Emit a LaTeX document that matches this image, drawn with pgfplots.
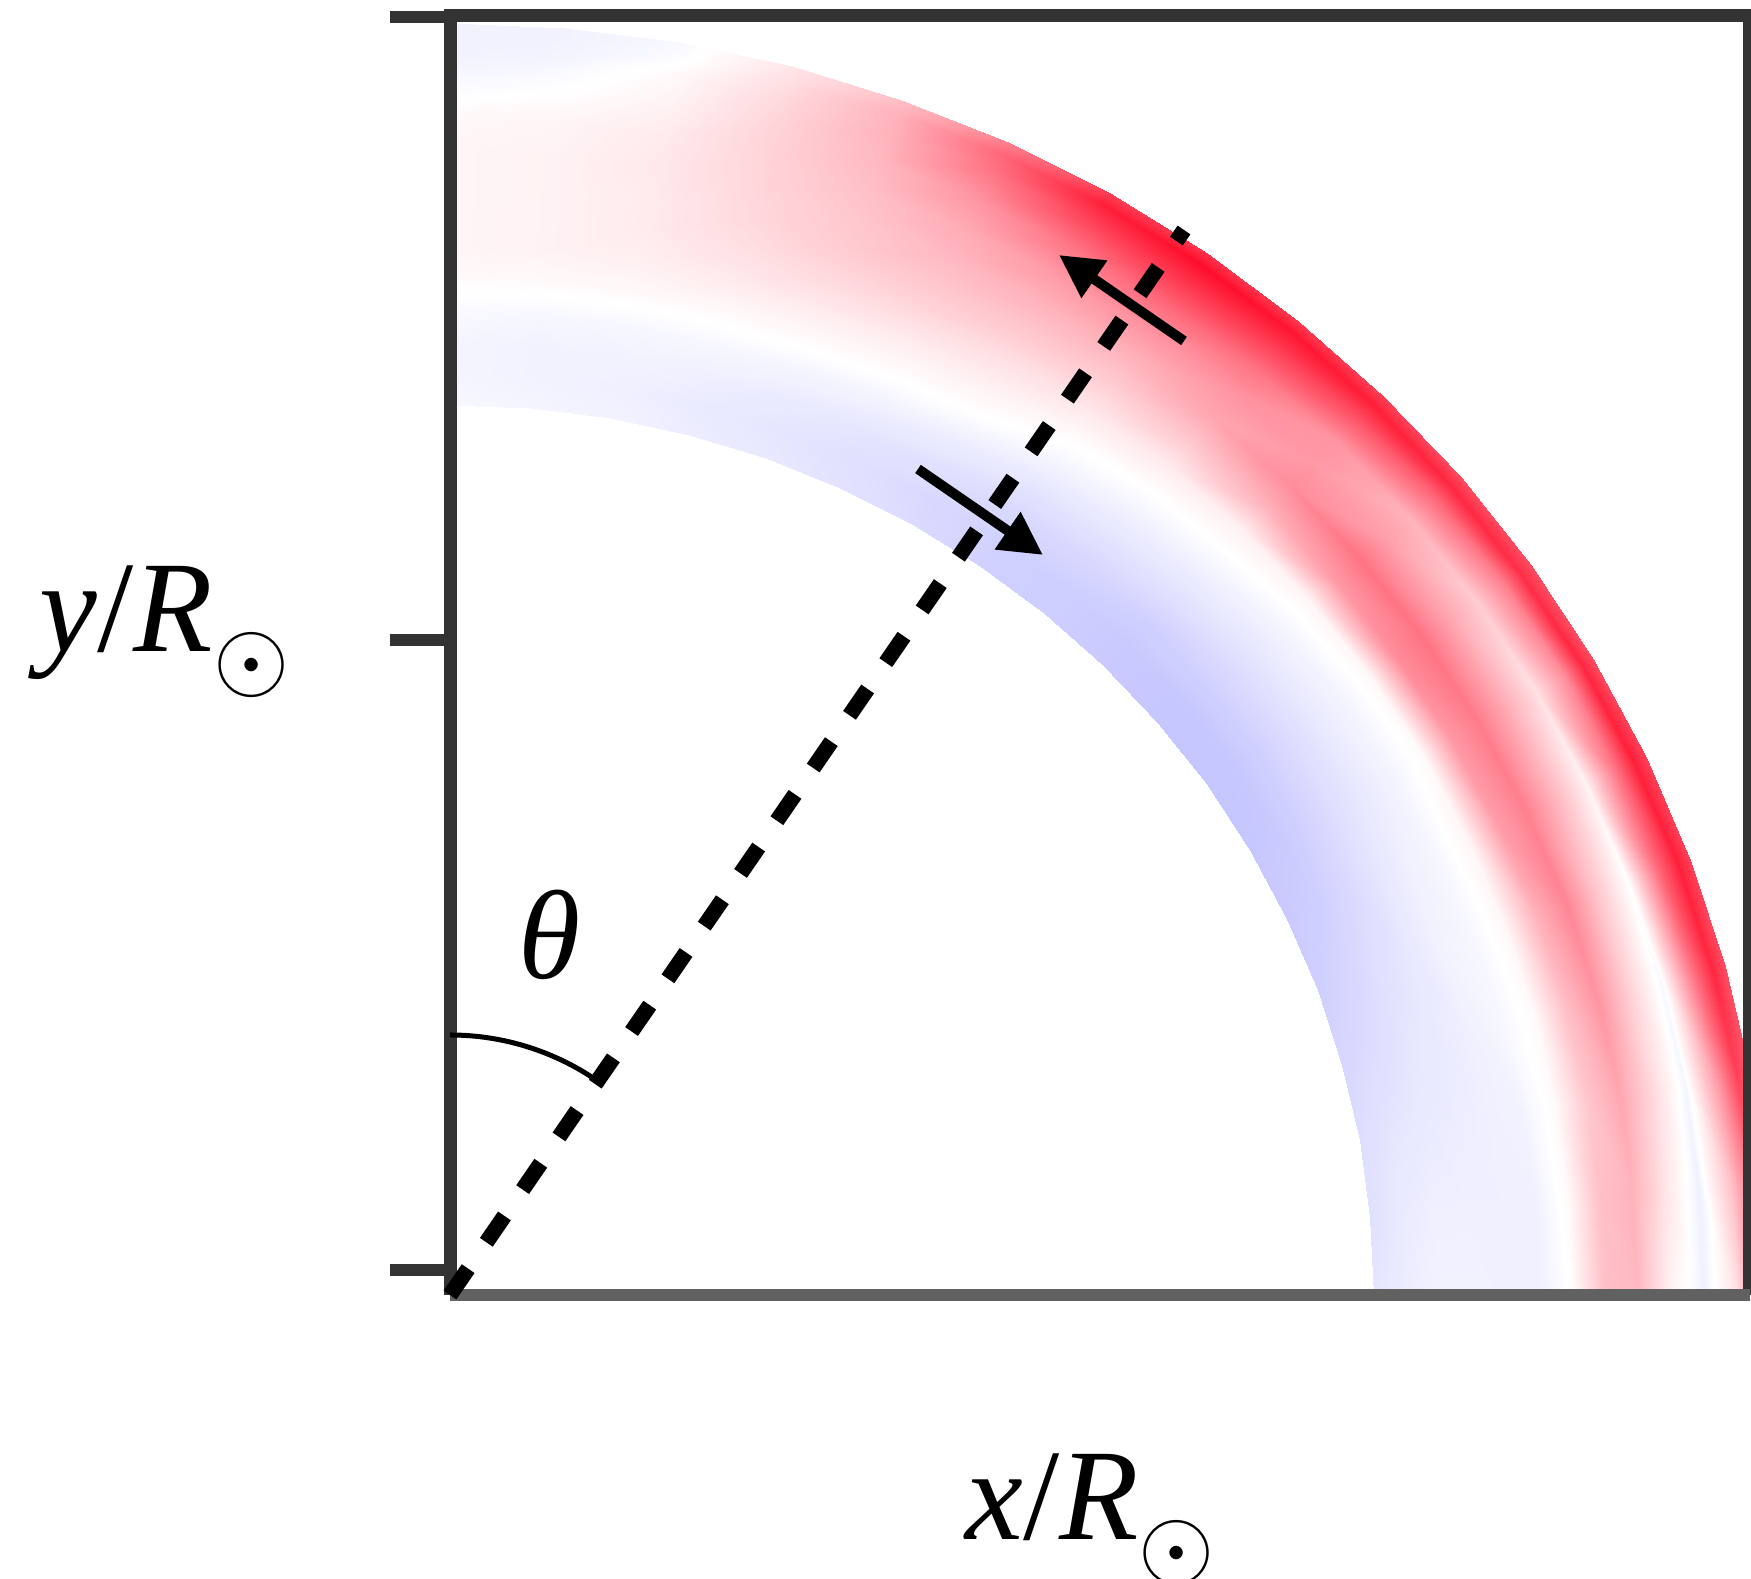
\documentclass[border=0pt]{standalone}
\usepackage{pgfplots}
\pgfplotsset{compat=1.18}
\usepackage{fontspec}
\setmainfont{Liberation Serif}
\usetikzlibrary{arrows.meta}
\newcommand{\sunsub}{\raisebox{-3.8mm}{\scalebox{1.12}{$\scriptstyle\odot$}}}
\begin{document}
\begin{tikzpicture}
\useasboundingbox (0,0) rectangle (175.1mm,157.9mm);
\begin{axis}[
  at={(45mm,28.4mm)}, anchor=south west,
  scale only axis, width=130mm, height=127.9mm,
  view={0}{90},
  xmin=0, xmax=0.985, ymin=0, ymax=1.0055, zmin=-1, zmax=1,
  xtick=\empty, ztick=\empty,
  ytick={0.0197,0.515,1.005}, yticklabels={},
  ytick pos=left, tick align=outside, major tick length=6mm,
  tick style={line width=1.2mm, black!80},
  axis line style={draw=none},
  colormap={bwr}{rgb=(0,0,1) rgb=(1,1,1) rgb=(1,0,0.12)},
  point meta min=-1, point meta max=1,
  clip mode=individual,
]
\addplot3[surf, shader=interp, mesh/rows=19, mesh/cols=14, point meta=explicit]
 table[x expr={\thisrow{r}*sin(\thisrow{t})}, y expr={\thisrow{r}*cos(\thisrow{t})}, z expr=0, meta=v, row sep=\\] {
t r v\\
0 .7 -.03\\ 0 .725 -.04\\ 0 .75 -.04\\ 0 .775 -.02\\ 0 .8 .02\\ 0 .825 .04\\ 0 .85 .04\\ 0 .875 .04\\ 0 .9 .04\\ 0 .925 .03\\ 0 .95 -.02\\ 0 .975 -.05\\ 0 .99 -.05\\ 0 1 -.05\\
5 .7 -.04\\ 5 .725 -.05\\ 5 .75 -.05\\ 5 .775 -.03\\ 5 .8 .02\\ 5 .825 .05\\ 5 .85 .05\\ 5 .875 .05\\ 5 .9 .05\\ 5 .925 .04\\ 5 .95 0\\ 5 .975 -.04\\ 5 .99 -.05\\ 5 1 -.05\\
10 .7 -.05\\ 10 .725 -.06\\ 10 .75 -.05\\ 10 .775 -.03\\ 10 .8 .02\\ 10 .825 .06\\ 10 .85 .08\\ 10 .875 .08\\ 10 .9 .09\\ 10 .925 .08\\ 10 .95 .05\\ 10 .975 .02\\ 10 .99 -.02\\ 10 1 -.03\\
15 .7 -.07\\ 15 .725 -.08\\ 15 .75 -.06\\ 15 .775 -.03\\ 15 .8 .02\\ 15 .825 .08\\ 15 .85 .12\\ 15 .875 .15\\ 15 .9 .16\\ 15 .925 .17\\ 15 .95 .17\\ 15 .975 .15\\ 15 .99 .12\\ 15 1 .10\\
20 .7 -.09\\ 20 .725 -.10\\ 20 .75 -.08\\ 20 .775 -.04\\ 20 .8 .02\\ 20 .825 .08\\ 20 .85 .15\\ 20 .875 .20\\ 20 .9 .22\\ 20 .925 .25\\ 20 .95 .28\\ 20 .975 .30\\ 20 .99 .30\\ 20 1 .25\\
25 .7 -.11\\ 25 .725 -.12\\ 25 .75 -.10\\ 25 .775 -.05\\ 25 .8 .01\\ 25 .825 .07\\ 25 .85 .15\\ 25 .875 .22\\ 25 .9 .28\\ 25 .925 .33\\ 25 .95 .42\\ 25 .975 .55\\ 25 .99 .60\\ 25 1 .50\\
30 .7 -.14\\ 30 .725 -.15\\ 30 .75 -.12\\ 30 .775 -.07\\ 30 .8 0\\ 30 .825 .06\\ 30 .85 .13\\ 30 .875 .22\\ 30 .9 .30\\ 30 .925 .40\\ 30 .95 .55\\ 30 .975 .75\\ 30 .99 .88\\ 30 1 .75\\
35 .7 -.18\\ 35 .725 -.18\\ 35 .75 -.15\\ 35 .775 -.10\\ 35 .8 -.04\\ 35 .825 .02\\ 35 .85 .10\\ 35 .875 .20\\ 35 .9 .30\\ 35 .925 .42\\ 35 .95 .60\\ 35 .975 .82\\ 35 .99 .95\\ 35 1 .80\\
40 .7 -.19\\ 40 .725 -.19\\ 40 .75 -.16\\ 40 .775 -.11\\ 40 .8 -.06\\ 40 .825 0\\ 40 .85 .08\\ 40 .875 .22\\ 40 .9 .35\\ 40 .925 .42\\ 40 .95 .55\\ 40 .975 .78\\ 40 .99 .92\\ 40 1 .78\\
45 .7 -.21\\ 45 .725 -.21\\ 45 .75 -.18\\ 45 .775 -.12\\ 45 .8 -.07\\ 45 .825 -.01\\ 45 .85 .06\\ 45 .875 .30\\ 45 .9 .45\\ 45 .925 .40\\ 45 .95 .42\\ 45 .975 .70\\ 45 .99 .88\\ 45 1 .75\\
50 .7 -.22\\ 50 .725 -.22\\ 50 .75 -.18\\ 50 .775 -.13\\ 50 .8 -.08\\ 50 .825 -.03\\ 50 .85 .04\\ 50 .875 .40\\ 50 .9 .55\\ 50 .925 .38\\ 50 .95 .30\\ 50 .975 .60\\ 50 .99 .85\\ 50 1 .70\\
55 .7 -.23\\ 55 .725 -.22\\ 55 .75 -.18\\ 55 .775 -.13\\ 55 .8 -.08\\ 55 .825 -.04\\ 55 .85 .03\\ 55 .875 .45\\ 55 .9 .55\\ 55 .925 .35\\ 55 .95 .20\\ 55 .975 .50\\ 55 .99 .82\\ 55 1 .70\\
60 .7 -.22\\ 60 .725 -.21\\ 60 .75 -.17\\ 60 .775 -.12\\ 60 .8 -.08\\ 60 .825 -.04\\ 60 .85 .02\\ 60 .875 .40\\ 60 .9 .52\\ 60 .925 .32\\ 60 .95 .12\\ 60 .975 .45\\ 60 .99 .85\\ 60 1 .70\\
65 .7 -.21\\ 65 .725 -.19\\ 65 .75 -.15\\ 65 .775 -.10\\ 65 .8 -.06\\ 65 .825 -.03\\ 65 .85 .04\\ 65 .875 .38\\ 65 .9 .50\\ 65 .925 .28\\ 65 .95 .05\\ 65 .975 .55\\ 65 .99 .88\\ 65 1 .75\\
70 .7 -.19\\ 70 .725 -.16\\ 70 .75 -.12\\ 70 .775 -.09\\ 70 .8 -.05\\ 70 .825 -.03\\ 70 .85 .03\\ 70 .875 .30\\ 70 .9 .48\\ 70 .925 .22\\ 70 .95 0\\ 70 .975 .60\\ 70 .99 .88\\ 70 1 .75\\
75 .7 -.16\\ 75 .725 -.13\\ 75 .75 -.10\\ 75 .775 -.08\\ 75 .8 -.06\\ 75 .825 -.03\\ 75 .85 .02\\ 75 .875 .25\\ 75 .9 .42\\ 75 .925 .18\\ 75 .95 -.03\\ 75 .975 .55\\ 75 .99 .85\\ 75 1 .70\\
80 .7 -.13\\ 80 .725 -.10\\ 80 .75 -.08\\ 80 .775 -.07\\ 80 .8 -.06\\ 80 .825 -.05\\ 80 .85 .02\\ 80 .875 .22\\ 80 .9 .35\\ 80 .925 .15\\ 80 .95 -.04\\ 80 .975 .40\\ 80 .99 .75\\ 80 1 .65\\
85 .7 -.12\\ 85 .725 -.08\\ 85 .75 -.06\\ 85 .775 -.06\\ 85 .8 -.06\\ 85 .825 -.06\\ 85 .85 .02\\ 85 .875 .25\\ 85 .9 .30\\ 85 .925 .10\\ 85 .95 -.06\\ 85 .975 .25\\ 85 .99 .55\\ 85 1 .50\\
90 .7 -.10\\ 90 .725 -.07\\ 90 .75 -.05\\ 90 .775 -.05\\ 90 .8 -.06\\ 90 .825 -.06\\ 90 .85 .01\\ 90 .875 .25\\ 90 .9 .28\\ 90 .925 .05\\ 90 .95 -.06\\ 90 .975 .12\\ 90 .99 .45\\ 90 1 .40\\
};
\draw[line width=1.3mm, black!80, line join=miter] (rel axis cs:0,0,0) -- (rel axis cs:0,1,0) -- (rel axis cs:1,1,0) -- (rel axis cs:1,0,0);
\draw[line width=1.2mm, black!62] (rel axis cs:0,0,0) -- (rel axis cs:1,0,0);
\end{axis}
\draw[line width=1.55mm, dash pattern=on 3.2mm off 3.2mm] (45mm,28.4mm) -- (118.4mm,134.9mm);
\draw[line width=1mm, -{Triangle[length=4.3mm,width=4.3mm]}] (118.4mm,123.8mm) -- (105.9mm,132.4mm);
\draw[line width=1mm, -{Triangle[length=4.3mm,width=4.3mm]}] (91.8mm,111.0mm) -- (104.3mm,102.4mm);
\draw[line width=0.5mm] (45mm,54.4mm) arc[start angle=90, end angle=54.6, radius=26mm];
\node[inner sep=0] at (55mm,64.4mm) {\fontsize{36}{40}\selectfont\itshape θ};
\node[inner sep=0, anchor=base west] at (3.9mm,92.7mm) {\fontsize{37}{40}\selectfont\textit{y}/\textit{R}\sunsub};
\node[inner sep=0, anchor=base west] at (96.5mm,3.9mm) {\fontsize{37}{40}\selectfont\textit{x}/\textit{R}\sunsub};
\end{tikzpicture}
\end{document}
